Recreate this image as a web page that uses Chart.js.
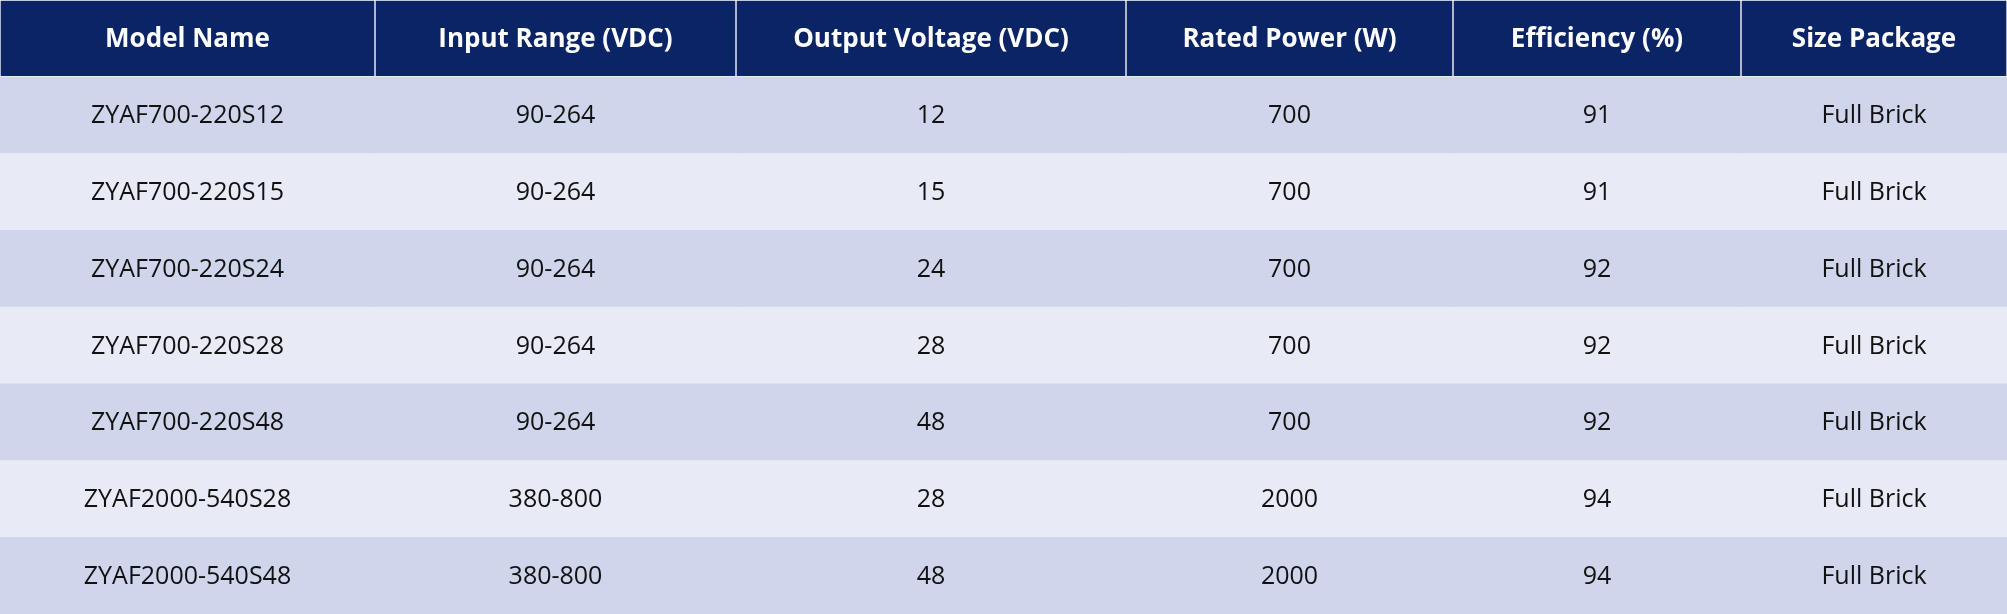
<!DOCTYPE html>
<html>
<head>
<meta charset="utf-8">
<script src="https://cdn.jsdelivr.net/npm/chart.js@4/dist/chart.umd.min.js"></script>
<style>
  html, body { margin: 0; padding: 0; background: #fff; }
  #wrap { width: 2007px; height: 614px; }
</style>
</head>
<body>
<div id="wrap"><canvas id="chart"></canvas></div>
<script>
const headers = ['Model Name', 'Input Range (VDC)', 'Output Voltage (VDC)', 'Rated Power (W)', 'Efficiency (%)', 'Size Package'];
const models = ['ZYAF700-220S12', 'ZYAF700-220S15', 'ZYAF700-220S24', 'ZYAF700-220S28', 'ZYAF700-220S48', 'ZYAF2000-540S28', 'ZYAF2000-540S48'];
const inputRange = ['90-264', '90-264', '90-264', '90-264', '90-264', '380-800', '380-800'];
const outputVoltage = [12, 15, 24, 28, 48, 28, 48];
const ratedPower = [700, 700, 700, 700, 700, 2000, 2000];
const efficiency = [91, 91, 92, 92, 92, 94, 94];
const sizePackage = ['Full Brick', 'Full Brick', 'Full Brick', 'Full Brick', 'Full Brick', 'Full Brick', 'Full Brick'];

// column edges in pixels along the x axis
const colEdges = [0, 375, 736, 1126, 1453, 1741, 2007];

const rowKeys = ['header', ...models.map((m, i) => 'r' + i)];
const columns = [models, inputRange, outputVoltage, ratedPower, efficiency, sizePackage];
const cellText = rowKeys.map((k, r) =>
  r === 0 ? headers : columns.map(col => String(col[r - 1])));

const headerBg = '#0b2466';
const rowBgs = ['#cfd5ea', '#e8eaf5'];
const rowColors = rowKeys.map((k, r) => r === 0 ? headerBg : rowBgs[(r - 1) % 2]);

const datasets = headers.map((h, c) => ({
  label: h,
  data: rowKeys.map(() => [colEdges[c], colEdges[c + 1]]),
  backgroundColor: rowColors,
  borderColor: rowKeys.map((k, r) => r === 0 ? 'rgba(255,255,255,0.12)' : 'rgba(0,0,0,0)'),
  borderWidth: rowKeys.map((k, r) => r === 0 ? 1 : 0),
  borderSkipped: false,
  grouped: false,
  barPercentage: 1,
  categoryPercentage: 1
}));

const cellTextPlugin = {
  id: 'cellText',
  afterDatasetsDraw(chart) {
    const { ctx, scales: { x, y } } = chart;
    ctx.save();
    ctx.textAlign = 'center';
    ctx.textBaseline = 'middle';
    cellText.forEach((row, r) => {
      ctx.font = r === 0 ? 'bold 26px "Open Sans", "Noto Sans", sans-serif' : '25px "Open Sans", "Noto Sans", sans-serif';
      ctx.fillStyle = r === 0 ? '#ffffff' : '#111111';
      row.forEach((t, c) => {
        const cx = x.getPixelForValue((colEdges[c] + colEdges[c + 1]) / 2);
        ctx.fillText(t, cx, y.getPixelForValue(r) + 1);
      });
    });
    ctx.restore();
  }
};

new Chart(document.getElementById('chart'), {
  type: 'bar',
  data: { labels: rowKeys, datasets },
  options: {
    indexAxis: 'y',
    responsive: true,
    maintainAspectRatio: false,
    animation: false,
    layout: { padding: 0 },
    plugins: { legend: { display: false }, tooltip: { enabled: false } },
    scales: {
      x: { type: 'linear', min: 0, max: 2007, display: false },
      y: { type: 'category', display: false, offset: true }
    }
  },
  plugins: [cellTextPlugin]
});
</script>
</body>
</html>
